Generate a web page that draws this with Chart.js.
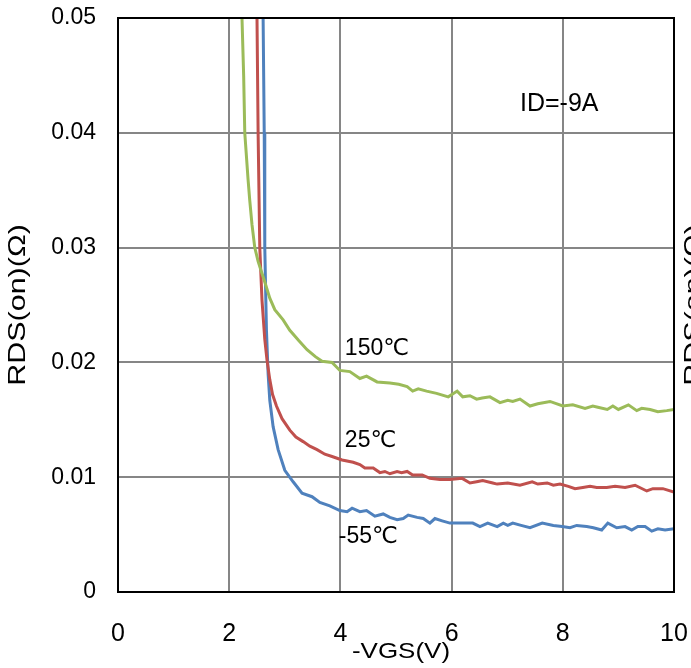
<!DOCTYPE html>
<html>
<head>
<meta charset="utf-8">
<script src="https://cdn.jsdelivr.net/npm/chart.js@4/dist/chart.umd.min.js"></script>
<style>
html,body{margin:0;padding:0;background:#fff;}
#wrap{width:691px;height:668px;}
</style>
</head>
<body>
<div id="wrap"><canvas id="rdsChart" width="691" height="668"></canvas></div>
<script>
// ===== Data =====

const vgs150 = [2.23,2.26,2.28,2.34,2.37,2.41,2.46,2.52,2.58,2.64,2.73,2.82,2.97,3.09,3.25,3.40,3.55,3.67,3.85,3.99,4.17,4.35,4.47,4.66,4.89,5.05,5.20,5.30,5.40,5.55,5.73,5.94,6.10,6.20,6.33,6.45,6.55,6.69,6.87,7.01,7.10,7.23,7.41,7.55,7.77,8.00,8.18,8.40,8.54,8.63,8.80,8.90,9.00,9.18,9.33,9.42,9.57,9.71,9.87,10.0];
const rds150 = [0.0500,0.0450,0.0400,0.0359,0.0341,0.0320,0.0300,0.0288,0.0279,0.0270,0.0256,0.0246,0.0237,0.0228,0.0219,0.0211,0.0205,0.0201,0.0200,0.0193,0.0192,0.0186,0.0188,0.0183,0.0182,0.0181,0.0179,0.0175,0.0177,0.0175,0.0173,0.0170,0.0175,0.0170,0.0171,0.0168,0.0169,0.0170,0.0165,0.0167,0.0166,0.0168,0.0162,0.0164,0.0166,0.0162,0.0163,0.0160,0.0162,0.0161,0.0159,0.0162,0.0159,0.0163,0.0158,0.0160,0.0159,0.0157,0.0158,0.0159];

const vgs25 = [2.50,2.52,2.55,2.59,2.64,2.68,2.73,2.78,2.85,2.95,3.09,3.20,3.33,3.45,3.58,3.72,3.85,4.03,4.23,4.35,4.44,4.59,4.71,4.80,4.89,5.02,5.10,5.20,5.30,5.47,5.61,5.79,5.97,6.19,6.33,6.45,6.56,6.74,6.82,7.01,7.23,7.45,7.55,7.72,7.83,7.95,8.10,8.22,8.36,8.49,8.61,8.79,8.94,9.12,9.30,9.51,9.62,9.80,10.0];
const rds25 = [0.0500,0.0400,0.0300,0.0254,0.0220,0.0202,0.0185,0.0172,0.0162,0.0151,0.0141,0.0135,0.0131,0.0127,0.0124,0.0120,0.0118,0.0115,0.0113,0.0111,0.0108,0.0108,0.0104,0.0105,0.0103,0.0105,0.0104,0.0105,0.0102,0.0102,0.0099,0.0098,0.0098,0.0099,0.0095,0.0096,0.0097,0.0095,0.0094,0.0095,0.0093,0.0096,0.0094,0.0095,0.0093,0.0094,0.0092,0.0090,0.0091,0.0092,0.0091,0.0091,0.0092,0.0091,0.0093,0.0088,0.0090,0.0090,0.0087];

const vgsM55 = [2.61,2.63,2.64,2.67,2.70,2.73,2.79,2.88,3.00,3.15,3.31,3.49,3.63,3.81,3.99,4.12,4.21,4.35,4.47,4.62,4.77,4.89,5.02,5.13,5.22,5.38,5.49,5.61,5.70,5.83,5.97,6.20,6.38,6.51,6.65,6.82,6.93,7.01,7.10,7.25,7.41,7.63,7.83,7.99,8.13,8.25,8.43,8.55,8.70,8.81,8.97,9.12,9.24,9.35,9.48,9.60,9.71,9.84,10.0];
const rdsM55 = [0.0500,0.0400,0.0300,0.0228,0.0190,0.0167,0.0144,0.0124,0.0106,0.0096,0.0086,0.0083,0.0078,0.0075,0.0071,0.0070,0.0073,0.0070,0.0071,0.0066,0.0068,0.0065,0.0063,0.0064,0.0067,0.0065,0.0064,0.0060,0.0064,0.0062,0.0060,0.0060,0.0060,0.0057,0.0060,0.0057,0.0060,0.0058,0.0060,0.0058,0.0056,0.0060,0.0058,0.0057,0.0056,0.0058,0.0057,0.0056,0.0054,0.0060,0.0056,0.0057,0.0054,0.0057,0.0057,0.0053,0.0055,0.0054,0.0055];

// curve labels (text, x, y in data units)
const noteText = ["150\u2103","25\u2103","-55\u2103","ID=-9A"];
const noteX = [4.08,4.08,3.97,7.23];
const noteY = [0.0212,0.0132,0.0048,0.0425];

const xTitle = "-VGS(V)";
const yTitle = "RDS(on)(\u03A9)";

const FONT = "'Liberation Sans', Arial, 'DejaVu Sans', sans-serif";

function toPoints(xs,ys){
    return xs.map((x,i)=>({x:x,y:ys[i]}));
}

// draw text stretched along its own direction
function stretchText(c,text,x,y,rot,sx,font){
    c.save();
    c.translate(x,y);
    c.rotate(rot);
    c.scale(sx,1);
    c.font = font;
    c.textAlign = "center";
    c.textBaseline = "middle";
    c.fillText(text,0,0);
    c.restore();
}

// ===== Frame, titles, notes and the clipped label of the next chart =====

const extras = {
    id:"extras",
    afterDatasetsDraw(chart){
        const c = chart.ctx;
        const a = chart.chartArea;
        const xs = chart.scales.x;
        const ys = chart.scales.y;
        const midY = (a.top + a.bottom) / 2;

        c.save();
        c.strokeStyle = "#000";
        c.lineWidth = 2;
        c.strokeRect(a.left, a.top, a.right - a.left, a.bottom - a.top);

        c.fillStyle = "#000";
        c.textBaseline = "middle";
        c.textAlign = "left";
        noteText.forEach((t,i)=>{
            c.font = (i==3 ? "25px " : "23px ") + FONT;
            c.fillText(t, xs.getPixelForValue(noteX[i]), ys.getPixelForValue(noteY[i]));
        });

        stretchText(c, yTitle, 18, midY, -Math.PI/2, 1.27, "24px " + FONT);
        stretchText(c, xTitle, 401, 652, 0, 1.18, "22px " + FONT);

        // cut-off y title of the chart to the right
        stretchText(c, yTitle, 694, midY, -Math.PI/2, 1.27, "24px " + FONT);
        c.restore();
    }
};

// ===== Chart =====

const ctx = document.getElementById("rdsChart").getContext("2d");

const rdsChart = new Chart(ctx,{

    type:"line",

    data:{
        datasets:[
            {
                label:"150\u2103",
                data:toPoints(vgs150,rds150),
                borderColor:"#9BBB59",
                borderWidth:3,
                pointRadius:0,
                tension:0,
                fill:false
            },
            {
                label:"25\u2103",
                data:toPoints(vgs25,rds25),
                borderColor:"#C0504D",
                borderWidth:3,
                pointRadius:0,
                tension:0,
                fill:false
            },
            {
                label:"-55\u2103",
                data:toPoints(vgsM55,rdsM55),
                borderColor:"#4F81BD",
                borderWidth:3,
                pointRadius:0,
                tension:0,
                fill:false
            }
        ]
    },

    options:{
        responsive:false,
        animation:false,
        layout:{padding:{top:18,right:17,left:0,bottom:0}},
        plugins:{
            legend:{display:false},
            tooltip:{enabled:false}
        },
        scales:{
            x:{
                type:"linear",
                min:0,
                max:10,
                afterFit(scale){
                    scale.height = 76;
                    scale.paddingLeft = 0;
                    scale.paddingRight = 0;
                },
                ticks:{
                    stepSize:2,
                    color:"#000",
                    padding:27,
                    maxRotation:0,
                    font:{family:FONT,size:25}
                },
                grid:{color:"#868686",lineWidth:2,drawTicks:false},
                border:{color:"#000",width:2}
            },
            y:{
                type:"linear",
                min:0,
                max:0.05,
                afterFit(scale){
                    scale.width = 118;
                    scale.paddingTop = 0;
                    scale.paddingBottom = 0;
                },
                ticks:{
                    stepSize:0.01,
                    color:"#000",
                    padding:22,
                    font:{family:FONT,size:23},
                    callback:v=> v===0 ? "0" : v.toFixed(2)
                },
                grid:{color:"#868686",lineWidth:2,drawTicks:false},
                border:{color:"#000",width:2}
            }
        }
    },

    plugins:[extras]

});
</script>
</body>
</html>
